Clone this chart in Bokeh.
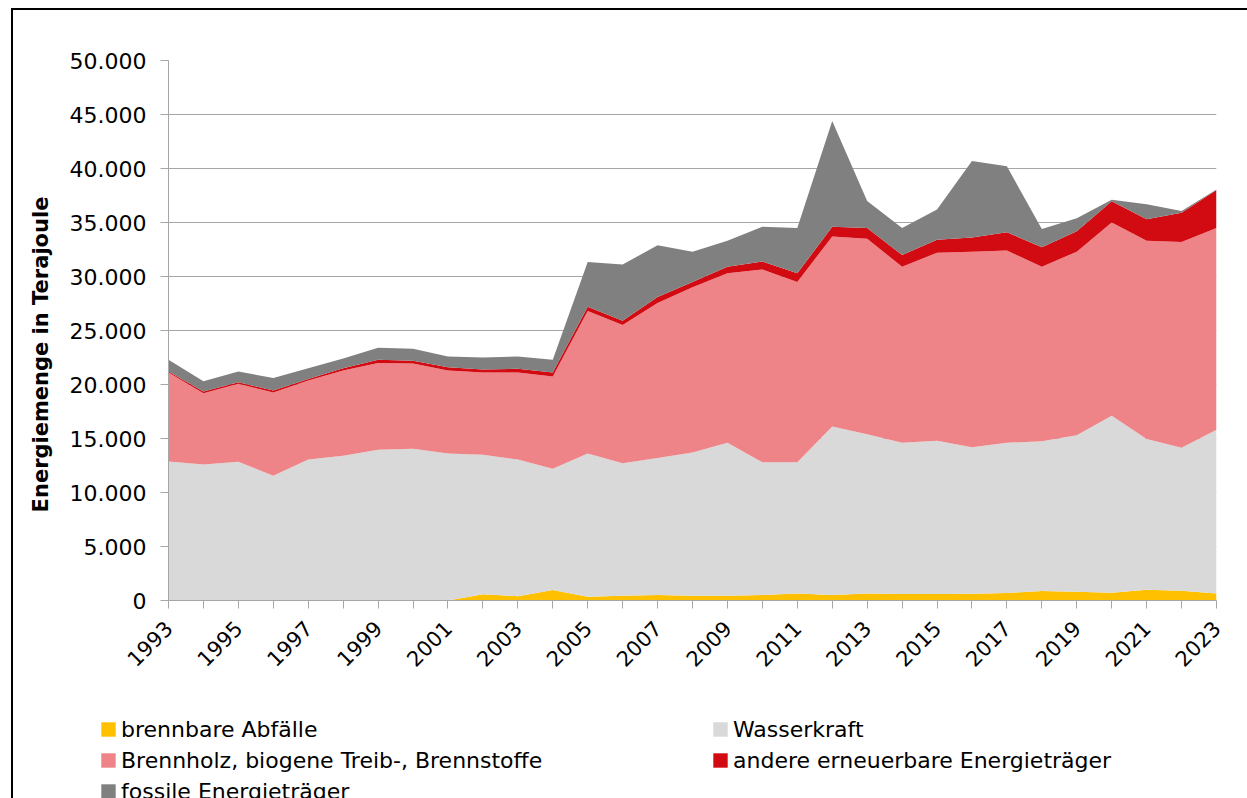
import math
from bokeh.plotting import figure
from bokeh.layouts import column, row
from bokeh.models import ColumnDataSource, FixedTicker, Legend, LegendItem, Label
from bokeh.embed import file_html
from bokeh.resources import INLINE

# ---- data (Terajoule) ----
years = list(range(1993, 2024))
abfaelle = [0, 0, 0, 0, 0, 0, 0, 0, 0, 590, 400, 970, 350, 430, 500, 430, 450, 500, 650,
            500, 650, 600, 600, 620, 700, 880, 800, 720, 1000, 900, 650]
wasserkraft = [12870, 12600, 12840, 11550, 13060, 13400, 13950, 14050, 13600, 12910, 12650,
               11230, 13250, 12270, 12700, 13270, 14150, 12300, 12150, 15600, 14750, 14000,
               14200, 13580, 13900, 13870, 14500, 16380, 13950, 13250, 15150]
brennholz = [8230, 6600, 7220, 7710, 7310, 7900, 8050, 7890, 7700, 7600, 8050, 8550, 13200,
             12800, 14350, 15300, 15700, 17850, 16700, 17600, 18100, 16300, 17400, 18100,
             17800, 16150, 17000, 17900, 18350, 19050, 18700]
andere = [100, 150, 140, 180, 130, 200, 300, 260, 300, 300, 360, 350, 400, 400, 550, 500, 600,
          750, 800, 900, 1000, 1100, 1200, 1300, 1700, 1800, 1900, 1970, 2000, 2700, 3500]
fossile = [1100, 950, 1000, 1160, 1000, 900, 1100, 1100, 1000, 1100, 1140, 1200, 4150, 5200,
           4800, 2800, 2400, 3200, 4200, 9800, 2500, 2500, 2800, 7100, 6100, 1700, 1200, 130,
           1400, 170, 50]

series_names = ["brennbare Abfälle", "Wasserkraft", "Brennholz, biogene Treib-, Brennstoffe",
                "andere erneuerbare Energieträger", "fossile Energieträger"]
colors = ["#FFC000", "#D9D9D9", "#EE8488", "#D20A12", "#808080"]
y_ticks = list(range(0, 50001, 5000))
x_label_years = years[::2]
y_title = "Energiemenge in Terajoule"

FONT = "DejaVu Sans"
GRID = "#A6A6A6"
STACK = ["s0", "s1", "s2", "s3", "s4"]

src = ColumnDataSource(dict(year=years, s0=abfaelle, s1=wasserkraft, s2=brennholz,
                            s3=andere, s4=fossile))

# ---- main chart ----
p = figure(width=1184, height=705, x_range=(years[0], years[-1]), y_range=(0, 50000),
           output_backend="svg", toolbar_location=None,
           min_border_left=105, min_border_right=31, min_border_top=50, min_border_bottom=115)
p.outline_line_color = None
p.background_fill_color = "white"
p.border_fill_color = "white"

renderers = p.varea_stack(stackers=STACK, x="year", color=colors, source=src)

p.xgrid.visible = False
p.ygrid.grid_line_color = GRID
p.ygrid.grid_line_width = 1.2
p.ygrid.level = "underlay"

p.yaxis.ticker = FixedTicker(ticks=y_ticks)
p.yaxis.major_label_overrides = {t: f"{t:,}".replace(",", ".") for t in y_ticks}
p.yaxis.axis_line_color = GRID
p.yaxis.major_tick_line_color = GRID
p.yaxis.major_tick_out = 8
p.yaxis.major_tick_in = 0
p.yaxis.minor_tick_line_color = None
p.yaxis.major_label_standoff = 14
p.yaxis.major_label_text_font = FONT
p.yaxis.major_label_text_font_size = "22px"
p.yaxis.major_label_text_color = "black"

p.xaxis.ticker = FixedTicker(ticks=years)
p.xaxis.major_label_overrides = {y: (str(y) if y in x_label_years else "") for y in years}
p.xaxis.major_label_orientation = math.pi / 4
p.xaxis.axis_line_color = GRID
p.xaxis.major_tick_line_color = GRID
p.xaxis.major_tick_out = 8
p.xaxis.major_tick_in = 0
p.xaxis.minor_tick_line_color = None
p.xaxis.major_label_standoff = 16
p.xaxis.major_label_text_font = FONT
p.xaxis.major_label_text_font_size = "21px"
p.xaxis.major_label_text_color = "black"

# ---- y-axis title panel ----
tfig = figure(width=50, height=705, x_range=(0, 1), y_range=(0, 1), output_backend="svg",
              toolbar_location=None, x_axis_location=None, y_axis_location=None,
              min_border=0)
tfig.outline_line_color = None
tfig.grid.visible = False
tfig.add_layout(Label(x=27, y=246, x_units="screen", y_units="screen", text=y_title,
                      angle=90, angle_units="deg", text_align="center",
                      text_baseline="middle", text_font=FONT, text_font_size="21px",
                      text_font_style="bold", text_color="black"))

# ---- legend panel ----
lfig = figure(width=1234, height=83, x_range=(0, 1), y_range=(0, 1), output_backend="svg",
              toolbar_location=None, x_axis_location=None, y_axis_location=None,
              min_border=0)
lfig.outline_line_color = None
lfig.grid.visible = False
leg_renderers = lfig.varea_stack(stackers=STACK, x="year", color=colors, source=src)
items = [LegendItem(label=n, renderers=[r]) for n, r in zip(series_names, leg_renderers)]
legend = Legend(items=items, location=(86, -6), orientation="horizontal", ncols=2,
                border_line_color=None, background_fill_alpha=0, padding=0, margin=0,
                spacing=5, glyph_width=18, glyph_height=18, label_standoff=4,
                label_width=585, label_height=26, label_text_font=FONT,
                label_text_font_size="22px", label_text_color="black")
lfig.add_layout(legend)

layout = column(row(tfig, p), lfig)
layout.styles = {"margin-left": "11px", "margin-top": "8px",
                 "border-left": "2px solid black", "border-top": "2px solid black"}

open("out.html", "w").write(file_html(layout, INLINE))
